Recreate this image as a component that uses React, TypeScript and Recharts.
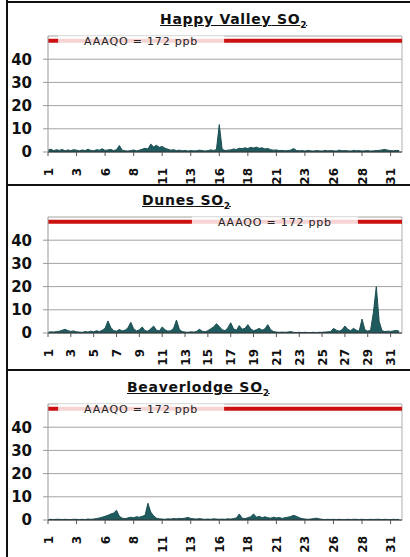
// SO2 hourly concentrations, three stations (one month)
import { AreaChart, Area, XAxis, YAxis, CartesianGrid, ReferenceLine } from "recharts";

// 6-hourly readings (4 per day, 31 days), ppb
const happyValley = [
  0.8, 1.2, 0.6, 1.0, 0.7, 1.1, 0.5, 0.9, 0.6, 1.0, 0.8, 0.5, 0.9, 0.6, 1.2, 0.7,
  0.5, 1.0, 0.8, 1.4, 0.7, 0.9, 1.1, 0.6, 1.0, 2.8, 0.8, 0.5, 0.4, 0.6, 0.9, 0.5,
  0.8, 1.2, 1.6, 1.3, 3.4, 2.2, 2.9, 2.0, 2.4, 1.6, 1.2, 0.8, 1.0, 0.6, 0.8, 0.5,
  0.7, 0.4, 0.6, 0.5, 0.5, 0.8, 0.6, 0.4, 0.6, 0.9, 0.7, 1.0, 11.8, 1.2, 0.6, 0.8,
  0.9, 1.3, 1.1, 1.6, 1.4, 1.8, 1.5, 2.0, 1.7, 2.1, 1.6, 1.8, 1.3, 1.5, 1.0, 0.8,
  0.9, 0.6, 0.7, 0.5, 0.6, 0.8, 1.5, 0.7, 0.5, 0.6, 0.4, 0.7, 0.5, 0.4, 0.6, 0.5,
  0.4, 0.7, 0.5, 0.6, 0.5, 0.4, 0.8, 0.5, 0.6, 0.5, 0.4, 0.7, 0.5, 0.6, 0.4, 0.5,
  0.6, 0.4, 0.5, 0.6, 0.7, 0.9, 1.1, 0.8, 0.6, 0.5, 0.7, 0.6,
];

const dunes = [
  0.3, 0.5, 0.4, 0.6, 0.8, 1.2, 1.6, 1.0, 0.7, 0.9, 0.5, 0.4, 0.3, 0.6, 0.4, 0.8,
  0.5, 1.0, 0.6, 1.2, 2.0, 5.2, 2.4, 1.0, 0.8, 1.5, 0.9, 1.2, 2.2, 4.6, 1.8, 0.9,
  1.4, 2.6, 1.0, 0.8, 1.8, 3.0, 1.2, 0.9, 2.6, 1.4, 0.8, 1.0, 2.0, 5.6, 1.6, 0.6,
  0.4, 0.3, 0.5, 0.4, 0.6, 1.6, 0.8, 0.5, 1.0, 1.8, 2.6, 4.0, 2.8, 1.4, 1.0, 2.2,
  4.4, 1.8, 1.2, 3.2, 1.6, 2.0, 3.6, 1.8, 1.0, 1.4, 2.0, 1.2, 1.8, 3.6, 1.4, 0.6,
  0.4, 0.3, 0.4, 0.3, 0.4, 0.6, 0.3, 0.2, 0.3, 0.2, 0.3, 0.2, 0.2, 0.3, 0.2, 0.3,
  0.3, 0.4, 0.5, 0.6, 2.0, 1.2, 0.8, 1.4, 3.0, 1.6, 1.0, 2.0, 1.2, 0.8, 6.0, 1.4,
  0.8, 1.2, 9.0, 20.0, 5.0, 1.0, 0.6, 0.8, 0.7, 0.9, 1.1, 0.8,
];

const beaverlodge = [
  0.2, 0.3, 0.2, 0.3, 0.3, 0.2, 0.3, 0.2, 0.2, 0.3, 0.3, 0.2, 0.3, 0.2, 0.4, 0.3,
  0.4, 0.6, 0.9, 1.2, 1.6, 2.0, 2.6, 3.0, 4.2, 1.6, 0.8, 0.6, 0.9, 1.2, 1.0, 1.4,
  1.2, 1.6, 2.0, 7.2, 3.4, 1.8, 0.8, 0.5, 0.4, 0.3, 0.5, 0.4, 0.6, 0.5, 0.7, 0.6,
  0.8, 1.1, 0.7, 0.5, 0.4, 0.6, 0.4, 0.3, 0.4, 0.3, 0.5, 0.4, 0.3, 0.4, 0.3, 0.5,
  0.4, 0.6, 0.9, 2.6, 0.8, 0.6, 1.0, 1.4, 2.6, 1.2, 1.6, 1.0, 1.4, 1.0, 0.8, 1.2,
  0.9, 1.1, 0.7, 1.0, 1.2, 1.5, 2.0, 1.6, 1.0, 0.6, 0.4, 0.3, 0.4, 0.6, 0.8, 0.5,
  0.3, 0.2, 0.3, 0.2, 0.3, 0.2, 0.3, 0.2, 0.2, 0.3, 0.2, 0.3, 0.3, 0.2, 0.3, 0.2,
  0.2, 0.3, 0.2, 0.3, 0.3, 0.2, 0.3, 0.2, 0.2, 0.3, 0.2, 0.3,
];

// x axis ticks (hour of month) and their day labels
const ticks60h = [0, 60, 120, 180, 240, 300, 360, 420, 480, 540, 600, 660, 720];
const labels60h = ["1", "3", "6", "8", "11", "13", "16", "18", "21", "23", "26", "28", "31"];
const ticks48h = [0, 48, 96, 144, 192, 240, 288, 336, 384, 432, 480, 528, 576, 624, 672, 720];
const labels48h = ["1", "3", "5", "7", "9", "11", "13", "15", "17", "19", "21", "23", "25", "27", "29", "31"];

const yTicks = [0, 10, 20, 30, 40];
const limitValue = 48; // AAAQO line, drawn at top (172 ppb is off scale)
const limitText = "AAAQO = 172 ppb";

const FONT = '"DejaVu Sans", sans-serif';

function DayTick(props: any) {
  const { x, y, index, labels } = props;
  const tx = x + 4.5;
  const ty = y + 10;
  return (
    <text
      x={tx}
      y={ty}
      transform={`rotate(-90 ${tx} ${ty})`}
      textAnchor="end"
      fontFamily={FONT}
      fontWeight="bold"
      fontSize={12}
      fill="#111"
    >
      {labels[index]}
    </text>
  );
}

function LimitLabel(props: any) {
  const { viewBox, center } = props;
  const cx = viewBox.x + viewBox.width * center;
  const cy = viewBox.y;
  return (
    <g>
      <rect x={cx - 83} y={cy - 5} width={166} height={10} fill="#fff" fillOpacity={0.82} />
      <text
        x={cx}
        y={cy + 4}
        textAnchor="middle"
        fontFamily={FONT}
        fontSize={11}
        letterSpacing={0.8}
        fill="#222"
      >
        {limitText}
      </text>
    </g>
  );
}

type PanelProps = {
  title: string;
  values: number[];
  ticks: number[];
  labels: string[];
  top: number;
  titleLeft: number;
  labelCenter: number;
};

function Panel({ title, values, ticks, labels, top, titleLeft, labelCenter }: PanelProps) {
  const data = values.map((v, i) => ({ h: i * 6, v }));
  return (
    <div style={{ position: "absolute", left: 0, top, width: 410, height: 182 }}>
      <div
        style={{
          position: "absolute",
          left: titleLeft,
          top: 9,
          fontFamily: FONT,
          fontWeight: "bold",
          fontSize: 14,
          letterSpacing: 0.7,
          lineHeight: "16px",
          textDecoration: "underline",
          color: "#111",
          whiteSpace: "nowrap",
        }}
      >
        {title} SO<sub style={{ fontSize: 9 }}>2</sub>
      </div>
      <AreaChart width={404} height={182} data={data} margin={{ top: 34, right: 2, bottom: 0, left: 0 }}>
        <CartesianGrid horizontal vertical={false} stroke="#a3a3a3" />
        <XAxis
          type="number"
          dataKey="h"
          domain={[0, 744]}
          ticks={ticks}
          interval={0}
          height={32}
          tickSize={4}
          axisLine={{ stroke: "#333" }}
          tickLine={{ stroke: "#555" }}
          tick={<DayTick labels={labels} />}
        />
        <YAxis
          domain={[0, 50]}
          ticks={yTicks}
          allowDataOverflow
          width={48}
          tickSize={5}
          tickMargin={11}
          axisLine={{ stroke: "#999" }}
          tickLine={{ stroke: "#999" }}
          tick={{ fontFamily: FONT, fontWeight: "bold", fontSize: 15, fill: "#111" }}
        />
        <ReferenceLine x={744} stroke="#b0b0b0" />
        <Area
          type="linear"
          dataKey="v"
          stroke="#1b4e52"
          strokeWidth={1}
          fill="#1f5a5e"
          fillOpacity={1}
          isAnimationActive={false}
        />
        <ReferenceLine
          y={limitValue}
          stroke="#cc1111"
          strokeWidth={4}
          label={<LimitLabel center={labelCenter} />}
        />
      </AreaChart>
    </div>
  );
}

export default function App() {
  return (
    <div
      style={{
        position: "absolute",
        left: 0,
        top: 0,
        width: 410,
        height: 557,
        background: "#fff",
        overflow: "hidden",
      }}
    >
      <Panel title="Happy Valley" values={happyValley} ticks={ticks60h} labels={labels60h} top={2} titleLeft={160} labelCenter={0.263} />
      <Panel title="Dunes" values={dunes} ticks={ticks48h} labels={labels48h} top={183} titleLeft={142} labelCenter={0.641} />
      <Panel title="Beaverlodge" values={beaverlodge} ticks={ticks60h} labels={labels60h} top={370} titleLeft={127} labelCenter={0.263} />

      {/* frame lines */}
      <div style={{ position: "absolute", left: 6, top: 0, width: 2, height: 557, background: "#111" }} />
      <div style={{ position: "absolute", left: 6, top: 1, width: 404, height: 2, background: "#111" }} />
      <div style={{ position: "absolute", left: 6, top: 184, width: 404, height: 2, background: "#111" }} />
      <div style={{ position: "absolute", left: 6, top: 369, width: 404, height: 2, background: "#111" }} />
    </div>
  );
}
